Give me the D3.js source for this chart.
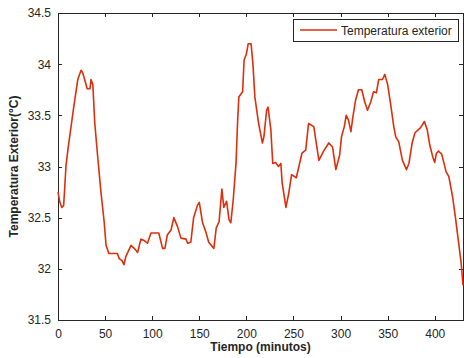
<!DOCTYPE html>
<html>
<head>
<meta charset="utf-8">
<script src="https://cdn.jsdelivr.net/npm/d3@7"></script>
<style>
  body { margin: 0; background: #fff; }
  text { font-family: "Liberation Sans", Arial, sans-serif; fill: #262626; }
</style>
</head>
<body>
<svg width="464" height="358"></svg>
<script>
// Tiempo (minutos) y temperatura exterior
const minutes = [0, 2, 4, 6, 7, 8.5, 11, 14, 17, 21, 24.5, 26, 28, 31, 34, 35, 37, 39, 42, 45.6,
  49, 51, 54, 63, 65, 68, 70, 72, 77.5, 81, 84.5, 88, 91, 95, 98.7, 107, 111, 113.5, 116, 120,
  123, 127, 130.5, 136, 137.6, 141, 144, 148, 150, 153.5, 157, 160, 165.5, 168, 171, 174, 176, 179, 181.6, 183.5,
  186, 189, 190.6, 192, 196, 197.6, 200, 202, 205, 207, 209, 213, 217, 218.6, 221.5, 223, 226, 228, 231, 234,
  236.6, 238, 242, 245, 248, 253, 259, 263, 266, 271.6, 277, 282, 287.5, 291.5, 295, 299, 301, 304, 306, 308.5,
  311, 313, 316, 319, 322.5, 325.7, 328.6, 332, 335, 338, 340.5, 344.5, 347, 350, 353, 356.5, 358.6, 361.8, 365.7, 370,
  372.6, 376, 379, 385, 389, 392, 394.7, 398, 400, 401.8, 404, 407.4, 409.6, 412, 415, 419, 422, 425, 428, 430];
const tempExt = [32.75, 32.65, 32.6, 32.62, 32.77, 33.01, 33.2, 33.4, 33.6, 33.85, 33.94, 33.92, 33.86, 33.76, 33.76, 33.85, 33.8, 33.43, 33.11, 32.75,
  32.46, 32.23, 32.15, 32.15, 32.1, 32.08, 32.04, 32.12, 32.23, 32.2, 32.16, 32.29, 32.28, 32.25, 32.35, 32.35, 32.2, 32.2, 32.33, 32.38,
  32.5, 32.41, 32.3, 32.29, 32.25, 32.26, 32.5, 32.62, 32.65, 32.45, 32.36, 32.26, 32.2, 32.4, 32.46, 32.78, 32.6, 32.66, 32.48, 32.45,
  32.67, 33.03, 33.42, 33.68, 33.73, 34.04, 34.1, 34.2, 34.2, 34.0, 33.68, 33.42, 33.23, 33.29, 33.55, 33.58, 33.36, 33.03, 33.04, 33.0,
  33.03, 32.84, 32.6, 32.74, 32.92, 32.89, 33.13, 33.16, 33.42, 33.39, 33.06, 33.15, 33.23, 33.19, 32.97, 33.11, 33.29, 33.39, 33.5, 33.45,
  33.34, 33.48, 33.65, 33.75, 33.75, 33.63, 33.55, 33.63, 33.73, 33.72, 33.85, 33.85, 33.9, 33.8, 33.62, 33.39, 33.29, 33.24, 33.06, 32.97,
  33.03, 33.23, 33.33, 33.38, 33.44, 33.36, 33.21, 33.09, 33.04, 33.13, 33.15, 33.12, 33.04, 32.95, 32.9, 32.7, 32.5, 32.28, 32.06, 31.84];
const xTicks = [0, 50, 100, 150, 200, 250, 300, 350, 400];
const yTicks = [31.5, 32, 32.5, 33, 33.5, 34, 34.5];
const seriesName = "Temperatura exterior";

const data = minutes.map((m, i) => ({ m: m, t: tempExt[i] }));

const margin = { top: 13, right: 1, bottom: 38, left: 58 };
const W = 464, H = 358;
const w = W - margin.left - margin.right;
const h = H - margin.top - margin.bottom;
const lineColor = "#dd2f0c";

const svg = d3.select("svg");
const g = svg.append("g").attr("transform", "translate(" + margin.left + "," + margin.top + ")");

const x = d3.scaleLinear().domain([0, 430]).range([0, w]);
const y = d3.scaleLinear().domain([31.5, 34.5]).range([h, 0]);

// Box with inward ticks (estilo MATLAB)
g.append("rect").attr("width", w).attr("height", h)
  .attr("fill", "none").attr("stroke", "#262626").attr("stroke-width", 1).attr("shape-rendering", "crispEdges");

const styleAxis = sel => {
  sel.select(".domain").remove();
  sel.selectAll(".tick line").attr("stroke", "#262626").attr("shape-rendering", "crispEdges");
  sel.selectAll(".tick text").attr("font-size", 12).attr("fill", "#262626")
    .style("font-family", "'Liberation Sans', Arial, sans-serif");
};

g.append("g").attr("transform", "translate(0," + h + ")")
  .call(d3.axisBottom(x).tickValues(xTicks).tickSize(-4).tickPadding(9).tickFormat(d3.format("d")))
  .call(styleAxis);
g.append("g")
  .call(d3.axisTop(x).tickValues(xTicks).tickSize(-4).tickFormat(""))
  .call(styleAxis);
g.append("g")
  .call(d3.axisLeft(y).tickValues(yTicks).tickSize(-4).tickPadding(7).tickFormat(d => d3.format("")(d)))
  .call(styleAxis);
g.append("g").attr("transform", "translate(" + w + ",0)")
  .call(d3.axisRight(y).tickValues(yTicks).tickSize(-4).tickFormat(""))
  .call(styleAxis);

// Serie
g.append("path")
  .datum(data)
  .attr("fill", "none")
  .attr("stroke", lineColor)
  .attr("stroke-width", 1.6)
  .attr("stroke-linejoin", "round")
  .attr("d", d3.line().x(d => x(d.m)).y(d => y(d.t)));

// Etiquetas de los ejes
svg.append("text")
  .attr("x", margin.left + w / 2).attr("y", 351)
  .attr("text-anchor", "middle").attr("font-size", 12).attr("font-weight", "bold")
  .text("Tiempo (minutos)");
svg.append("text")
  .attr("transform", "translate(18," + (margin.top + h / 2) + ") rotate(-90)")
  .attr("text-anchor", "middle").attr("font-size", 12).attr("font-weight", "bold")
  .text("Temperatura Exterior(°C)");

// Leyenda
const leg = svg.append("g").attr("transform", "translate(293,19)");
leg.append("rect").attr("width", 165).attr("height", 22)
  .attr("fill", "#fff").attr("stroke", "#262626").attr("shape-rendering", "crispEdges");
leg.append("line").attr("x1", 7).attr("x2", 44).attr("y1", 11).attr("y2", 11)
  .attr("stroke", lineColor).attr("stroke-width", 1.6);
leg.append("text").attr("x", 48).attr("y", 15.5).attr("font-size", 12).text(seriesName);
</script>
</body>
</html>
